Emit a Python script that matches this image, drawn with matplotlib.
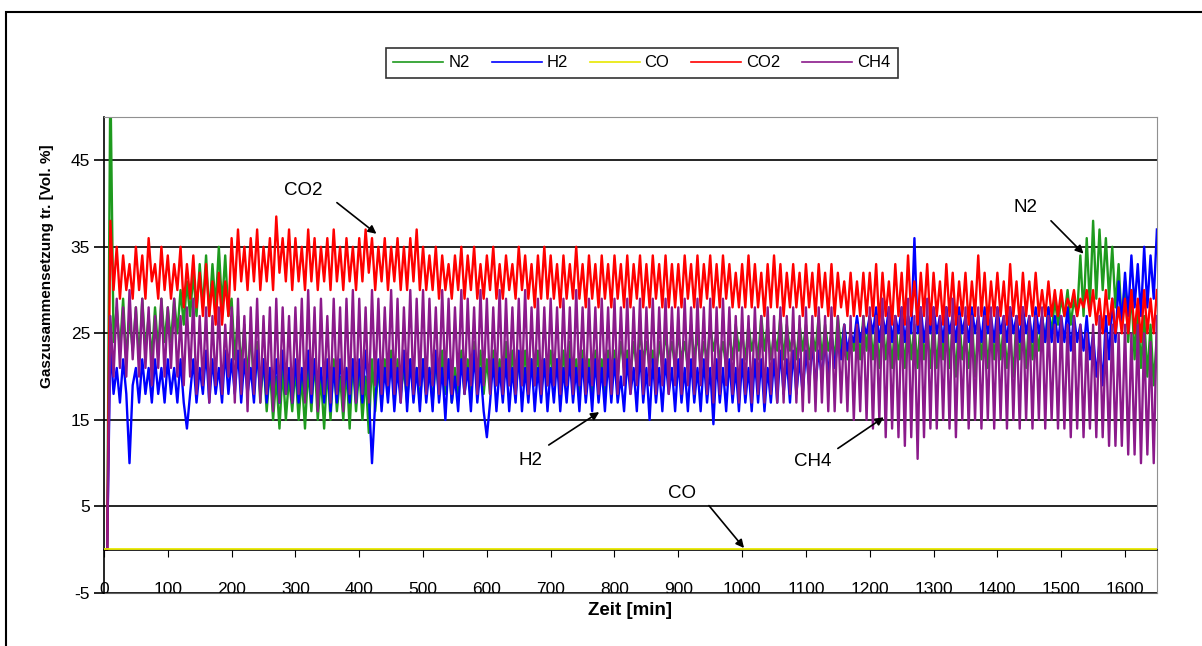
import numpy as np
import matplotlib
matplotlib.use('Agg')
import matplotlib.pyplot as plt
import matplotlib.patheffects as pe
from matplotlib.patches import Rectangle

plt.rcParams['font.family'] = ['Liberation Sans', 'DejaVu Sans']
plt.rcParams['axes.unicode_minus'] = False

# Messzeitpunkte [min], alle 5 min
zeit = np.arange(0, 1651, 5)

# Gaszusammensetzung tr. [Vol. %] (Zeile = 100 min)
n2 = [
    0, 0, 55, 24, 28, 23, 29, 22, 27, 23, 28, 22, 29, 23, 27, 22, 28, 23, 29, 24,
    28, 24, 29, 25, 30, 26, 31, 27, 32, 27, 33, 28, 34, 27, 33, 28, 35, 28, 34, 27,
    29, 22, 27, 21, 26, 20, 25, 19, 24, 17, 22, 16, 21, 15, 20, 14, 21, 15, 20, 16,
    21, 15, 20, 14, 21, 16, 22, 15, 20, 14, 21, 15, 22, 16, 20, 15, 21, 14, 22, 16,
    21, 15, 20, 13.5, 22, 16, 21, 17, 22, 18, 23, 17, 22, 18, 21, 17, 22, 18, 21, 17,
    22, 18, 21, 17, 22, 18, 23, 18, 22, 17, 21, 18, 23, 18, 22, 17, 24, 19, 23, 18,
    22, 18, 23, 19, 22, 18, 24, 19, 23, 18, 22, 19, 23, 18, 22, 19, 23, 18, 22, 19,
    23, 19, 22, 18, 23, 19, 24, 19, 22, 18, 23, 19, 22, 18, 23, 19, 22, 18, 23, 19,
    23, 20, 24, 21, 23, 20, 24, 21, 25, 22, 24, 21, 23, 20, 24, 21, 25, 22, 24, 21,
    25, 22, 24, 21, 26, 22, 25, 21, 24, 22, 26, 23, 25, 22, 24, 21, 25, 22, 26, 23,
    25, 22, 26, 23, 25, 22, 27, 23, 26, 22, 25, 23, 27, 22, 26, 23, 25, 22, 26, 23,
    26, 22, 25, 23, 27, 22, 26, 23, 25, 22, 27, 23, 26, 22, 25, 23, 26, 22, 27, 23,
    27, 22, 26, 21, 27, 22, 26, 21, 27, 22, 26, 21, 27, 22, 26, 21, 27, 22, 26, 21,
    27, 21, 26, 22, 28, 21, 26, 20, 27, 22, 25, 21, 27, 20, 26, 22, 27, 21, 26, 22,
    27, 22, 26, 21, 25, 20, 27, 22, 26, 21, 27, 22, 26, 23, 27, 24, 28, 25, 29, 26,
    29, 27, 30, 26, 29, 27, 34, 27, 36, 28, 38, 29, 37, 30, 36, 29, 35, 28, 33, 26,
    31, 24, 30, 22, 28, 21, 27, 20, 26, 19, 25,
]
h2 = [
    0, 0, 24, 18, 21, 17, 22, 18, 10, 19, 21, 17, 22, 18, 21, 17, 22, 18, 21, 17,
    22, 18, 21, 17, 22, 17, 14, 18, 22, 17, 21, 18, 23, 17, 22, 18, 21, 17, 23, 18,
    22, 18, 23, 17, 22, 18, 21, 17, 23, 18, 22, 17, 21, 18, 22, 17, 23, 18, 21, 17,
    22, 17, 21, 18, 23, 17, 22, 18, 21, 17, 22, 16, 21, 17, 22, 18, 21, 17, 22, 17,
    22, 17, 23, 18, 10, 17, 22, 16, 21, 17, 22, 16, 21, 17, 23, 16, 22, 17, 21, 16,
    22, 17, 21, 16, 23, 17, 21, 15, 22, 17, 20, 16, 22, 18, 21, 16, 23, 17, 21, 16,
    13, 17, 22, 16, 21, 17, 22, 16, 21, 17, 23, 16, 21, 17, 22, 16, 21, 17, 22, 16,
    21, 17, 22, 16, 21, 17, 22, 17, 21, 16, 22, 17, 21, 16, 22, 17, 21, 16, 22, 17,
    22, 17, 20, 16, 22, 18, 21, 16, 23, 17, 21, 15, 22, 17, 21, 16, 22, 18, 21, 16,
    22, 17, 21, 16, 22, 17, 21, 16, 22, 17, 21, 14.5, 22, 17, 21, 16, 22, 17, 21, 16,
    22, 17, 21, 16, 22, 17, 22, 16, 21, 17, 22, 17, 23, 18, 22, 17, 23, 18, 22, 18,
    23, 19, 24, 19, 23, 20, 24, 20, 25, 21, 24, 22, 26, 23, 25, 24, 27, 24, 26, 25,
    27, 25, 28, 24, 27, 25, 28, 24, 27, 25, 28, 24, 27, 25, 36, 25, 28, 24, 27, 25,
    28, 25, 27, 24, 28, 25, 27, 24, 28, 25, 27, 24, 28, 25, 27, 24, 28, 25, 27, 24,
    28, 25, 27, 24, 28, 25, 27, 24, 28, 25, 27, 24, 28, 25, 27, 24, 28, 24, 27, 24,
    27, 24, 28, 23, 27, 24, 26, 23, 27, 22, 25, 20, 24, 19, 27, 22, 29, 24, 31, 26,
    32, 27, 34, 28, 33, 27, 35, 28, 34, 29, 37,
]
co = [0] * len(zeit)
co2 = [
    0, 0, 38, 30, 35, 29, 34, 30, 33, 29, 35, 30, 34, 29, 36, 31, 33, 29, 35, 30,
    34, 29, 33, 30, 35, 28, 33, 29, 34, 28, 32, 27, 33, 27, 31, 26, 32, 26, 31, 27,
    36, 30, 37, 31, 35, 30, 36, 31, 37, 30, 35, 31, 36, 30, 38.5, 32, 36, 31, 37, 30,
    36, 31, 35, 30, 37, 31, 36, 30, 35, 31, 36, 30, 37, 31, 35, 30, 36, 31, 35, 30,
    36, 31, 37, 32, 36, 30, 35, 31, 36, 30, 35, 31, 36, 30, 35, 30, 36, 31, 37, 30,
    35, 30, 34, 30, 35, 29, 34, 30, 33, 29, 34, 30, 35, 29, 34, 30, 35, 29, 33, 29,
    34, 30, 35, 29, 33, 29, 34, 30, 33, 29, 35, 30, 34, 29, 33, 28, 34, 29, 35, 29,
    34, 29, 33, 28, 34, 29, 33, 29, 35, 29, 33, 28, 34, 29, 33, 28, 34, 29, 33, 28,
    34, 29, 33, 28, 34, 28, 33, 29, 34, 28, 33, 28, 34, 29, 33, 28, 34, 28, 33, 28,
    33, 28, 34, 29, 33, 28, 34, 28, 33, 29, 34, 28, 33, 28, 34, 29, 33, 28, 32, 28,
    33, 28, 34, 28, 33, 28, 32, 27, 33, 28, 34, 28, 33, 27, 32, 28, 33, 28, 32, 27,
    33, 28, 32, 27, 33, 28, 32, 27, 33, 27, 32, 28, 31, 27, 32, 27, 31, 27, 32, 27,
    32, 27, 33, 26, 32, 27, 31, 26, 33, 27, 32, 26, 34, 27, 31, 26, 32, 27, 33, 26,
    32, 27, 31, 26, 33, 27, 32, 26, 31, 27, 32, 26, 31, 27, 34, 27, 32, 26, 31, 27,
    32, 27, 31, 26, 33, 27, 31, 26, 32, 27, 31, 27, 32, 27, 30, 27, 31, 27, 30, 27,
    30, 27, 29, 28, 30, 27, 29, 28, 30, 27, 30, 26, 29, 25, 30, 26, 29, 25, 28, 25,
    29, 25, 30, 25, 29, 24, 30, 25, 29, 25, 30,
]
ch4 = [
    0, 0, 27, 20, 29, 21, 28, 20, 30, 22, 28, 20, 29, 21, 28, 19, 27, 21, 29, 20,
    28, 21, 29, 20, 27, 19, 28, 20, 29, 18, 27, 19, 28, 17, 27, 19, 28, 18, 26, 20,
    28, 17, 29, 18, 27, 16, 28, 18, 29, 17, 27, 18, 28, 16, 29, 17, 28, 18, 27, 17,
    28, 18, 29, 17, 30, 18, 28, 16, 29, 18, 27, 17, 29, 18, 28, 16, 29, 18, 30, 17,
    29, 18, 28, 17, 30, 19, 29, 18, 28, 19, 30, 18, 29, 17, 28, 19, 30, 18, 29, 19,
    30, 18, 29, 19, 28, 18, 30, 19, 29, 18, 28, 19, 30, 18, 29, 19, 28, 18, 30, 19,
    29, 18, 28, 19, 30, 18, 29, 19, 28, 18, 29, 19, 30, 18, 28, 19, 29, 18, 28, 19,
    29, 19, 28, 18, 29, 19, 28, 18, 30, 19, 28, 18, 29, 19, 28, 18, 29, 19, 28, 18,
    29, 18, 28, 19, 29, 18, 28, 19, 29, 18, 28, 19, 29, 18, 28, 19, 29, 18, 28, 19,
    28, 18, 29, 19, 28, 18, 29, 19, 28, 18, 29, 17, 28, 18, 29, 19, 28, 18, 27, 17,
    28, 18, 27, 17, 28, 18, 27, 17, 28, 18, 27, 17, 28, 17, 27, 18, 28, 17, 27, 16,
    28, 17, 27, 16, 28, 17, 27, 16, 28, 16, 27, 17, 26, 16, 27, 15, 26, 16, 27, 15,
    28, 14, 27, 15, 29, 13, 28, 14, 27, 13, 28, 12, 29, 13, 27, 10.5, 28, 13, 29, 14,
    28, 14, 27, 15, 28, 14, 29, 13, 27, 15, 28, 14, 27, 15, 28, 14, 27, 15, 28, 14,
    28, 15, 27, 14, 28, 15, 27, 14, 28, 15, 27, 14, 27, 15, 28, 14, 27, 15, 26, 14,
    27, 14, 26, 13, 27, 14, 26, 13, 25, 14, 26, 13, 27, 13, 25, 12, 26, 12, 25, 12,
    26, 11, 25, 11, 26, 10, 25, 11, 24, 10, 27,
]

serien = [
    ('N2', n2, '#1e9a1e'),
    ('H2', h2, '#0000ff'),
    ('CO', co, '#e8e800'),
    ('CO2', co2, '#ff0000'),
    ('CH4', ch4, '#8b1a8b'),
]

y_ticks = [-5, 5, 15, 25, 35, 45]
x_ticks = list(range(0, 1601, 100))

# Beschriftung, Textposition, Pfeilanfang, Pfeilspitze (Datenkoordinaten)
pfeile = [
    ('CO2', (312, 41.5), (365, 40.1), (427, 36.5)),
    ('H2', (668, 10.3), (697, 12.1), (776, 15.9)),
    ('CH4', (1110, 10.2), (1150, 11.7), (1222, 15.3)),
    ('CO', (906, 6.5), (948, 5.1), (1003, 0.2)),
    ('N2', (1444, 39.5), (1484, 38.0), (1535, 34.2)),
]

fig = plt.figure(figsize=(12.02, 6.46), dpi=100)
fig.patches.append(Rectangle((0.005, -0.05), 1.2, 1.0314, transform=fig.transFigure,
                             fill=False, edgecolor='black', linewidth=1.5))
ax = fig.add_axes([0.0865, 0.082, 0.876, 0.737])

for name, werte, farbe in serien:
    if name == 'CO':
        # CO liegt auf der Nulllinie, leicht darüber gezeichnet wie im Original
        ax.plot(zeit, werte, color=farbe, lw=1.3, label=name, zorder=2.6,
                path_effects=[pe.Stroke(offset=(0, 0.8))])
    else:
        ax.plot(zeit, werte, color=farbe, lw=1.7, label=name)

ax.set_xlim(0, 1650)
ax.set_ylim(-5, 50)
ax.set_yticks(y_ticks)
ax.set_xticks(x_ticks)
ax.yaxis.grid(True, color='black', lw=1.2)
ax.set_axisbelow(True)

ax.spines['left'].set_color('black')
ax.spines['left'].set_linewidth(1.2)
for s in ['top', 'right']:
    ax.spines[s].set_color('#909090')
ax.spines['bottom'].set_position(('data', 0))
ax.spines['bottom'].set_linewidth(1.2)
ax.tick_params(axis='x', direction='out', length=5, labelbottom=False)
ax.tick_params(axis='y', direction='out', length=7, width=1.2, labelsize=12.5, pad=3)

sec = ax.secondary_xaxis('bottom')
sec.set_xticks(x_ticks)
sec.tick_params(length=0, labelsize=12.5, pad=-8)
sec.spines['bottom'].set_color('#606060')
sec.set_xlabel('Zeit [min]', fontweight='bold', fontsize=13.5, labelpad=4)

ax.set_ylabel('Gaszusammensetzung tr. [Vol. %]', fontweight='bold', fontsize=11)
ax.yaxis.set_label_coords(-0.047, 0.687)

for text, pos, start, ende in pfeile:
    ax.text(pos[0], pos[1], text, ha='center', va='center', fontsize=13.5)
    ax.annotate('', xy=ende, xytext=start,
                arrowprops=dict(arrowstyle='-|>', color='black', lw=1.2,
                                mutation_scale=12, shrinkA=0, shrinkB=0))

leg = fig.legend(loc='center', bbox_to_anchor=(0.534, 0.9025), ncol=5, frameon=True,
                 fancybox=False, edgecolor='black', fontsize=12, handlelength=3.0,
                 handletextpad=0.3, columnspacing=1.3, borderpad=0.45)
leg.get_frame().set_linewidth(1.2)
for h in leg.get_lines():
    h.set_linewidth(1.2)
    h.set_path_effects([])

fig.savefig('out.png', dpi=100, facecolor='white')
